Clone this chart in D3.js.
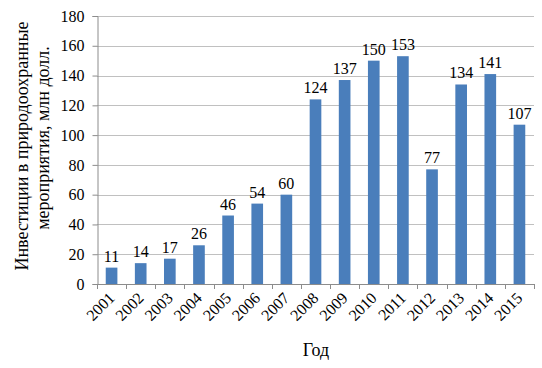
<!DOCTYPE html>
<html>
<head>
<meta charset="utf-8">
<script src="https://cdn.jsdelivr.net/npm/d3@7"></script>
<style>
  body { margin: 0; background: #fff; }
  svg { display: block; }
</style>
</head>
<body>
<svg id="chart" width="542" height="368"></svg>
<script>
// Data
const years = ['2001', '2002', '2003', '2004', '2005', '2006', '2007', '2008',
               '2009', '2010', '2011', '2012', '2013', '2014', '2015'];
const investments = [11, 14, 17, 26, 46, 54, 60, 124, 137, 150, 153, 77, 134, 141, 107];
const yTicks = [0, 20, 40, 60, 80, 100, 120, 140, 160, 180];

const serif = "'Liberation Serif', 'Times New Roman', serif";
const svg = d3.select('#chart');
const plot = { left: 97, right: 534, top: 16, bottom: 284 };

const x = d3.scaleBand().domain(years).range([plot.left, plot.right]).paddingInner(0.6).paddingOuter(0.3);
const y = d3.scaleLinear().domain([0, 180]).range([plot.bottom, plot.top]);

// Gridlines
svg.append('g')
    .selectAll('line')
    .data(yTicks.filter(d => d > 0))
    .enter()
    .append('line')
    .attr('x1', plot.left)
    .attr('x2', plot.right)
    .attr('y1', d => Math.round(y(d)) + 0.5)
    .attr('y2', d => Math.round(y(d)) + 0.5)
    .style('stroke', '#c0c0c0')
    .style('stroke-width', 1);

// Y axis
const yAxis = svg.append('g')
    .attr('transform', `translate(${plot.left + 0.5},0)`)
    .call(d3.axisLeft(y).tickValues(yTicks).tickSize(5).tickPadding(8))
    .attr('font-family', serif)
    .attr('font-size', 16);
yAxis.select('.domain').style('stroke', '#8c8c8c');
yAxis.selectAll('.tick line').style('stroke', '#8c8c8c');
yAxis.selectAll('.tick text').attr('fill', '#000');

// Bars
svg.append('g')
    .selectAll('rect')
    .data(investments)
    .enter()
    .append('rect')
    .attr('x', (d, i) => x(years[i]))
    .attr('width', x.bandwidth())
    .attr('y', d => y(d))
    .attr('height', d => y(0) - y(d))
    .style('fill', '#4a7ebb');

// Value labels
svg.append('g')
    .attr('font-family', serif)
    .attr('font-size', 16)
    .selectAll('text')
    .data(investments)
    .enter()
    .append('text')
    .attr('x', (d, i) => x(years[i]) + x.bandwidth() / 2)
    .attr('y', d => y(d) - 6)
    .attr('text-anchor', 'middle')
    .text(d => d);

// X axis (ticks between categories)
const xAxis = svg.append('g')
    .attr('font-family', serif)
    .attr('font-size', 16);
xAxis.append('line')
    .attr('x1', plot.left)
    .attr('x2', plot.right)
    .attr('y1', plot.bottom + 0.5)
    .attr('y2', plot.bottom + 0.5)
    .style('stroke', '#8c8c8c');
xAxis.selectAll('.xtick')
    .data(d3.range(years.length + 1))
    .enter()
    .append('line')
    .attr('x1', i => Math.round(plot.left + i * x.step()) + 0.5)
    .attr('x2', i => Math.round(plot.left + i * x.step()) + 0.5)
    .attr('y1', plot.bottom)
    .attr('y2', plot.bottom + 5)
    .style('stroke', '#8c8c8c');

xAxis.selectAll('.xlabel')
    .data(years)
    .enter()
    .append('text')
    .attr('text-anchor', 'end')
    .attr('transform', d => `translate(${x(d) + x.bandwidth() / 2 + 4},${plot.bottom + 15}) rotate(-45)`)
    .text(d => d);

// Axis titles
const titles = svg.append('g')
    .attr('font-family', serif)
    .attr('font-size', 18);
titles.append('text')
    .attr('x', 316)
    .attr('y', 356)
    .attr('text-anchor', 'middle')
    .text('Год');
titles.append('text')
    .attr('transform', 'translate(28,146) rotate(-90)')
    .attr('text-anchor', 'middle')
    .text('Инвестиции в природоохранные');
titles.append('text')
    .attr('transform', 'translate(49,138) rotate(-90)')
    .attr('text-anchor', 'middle')
    .text('мероприятия, млн  долл.');
</script>
</body>
</html>
